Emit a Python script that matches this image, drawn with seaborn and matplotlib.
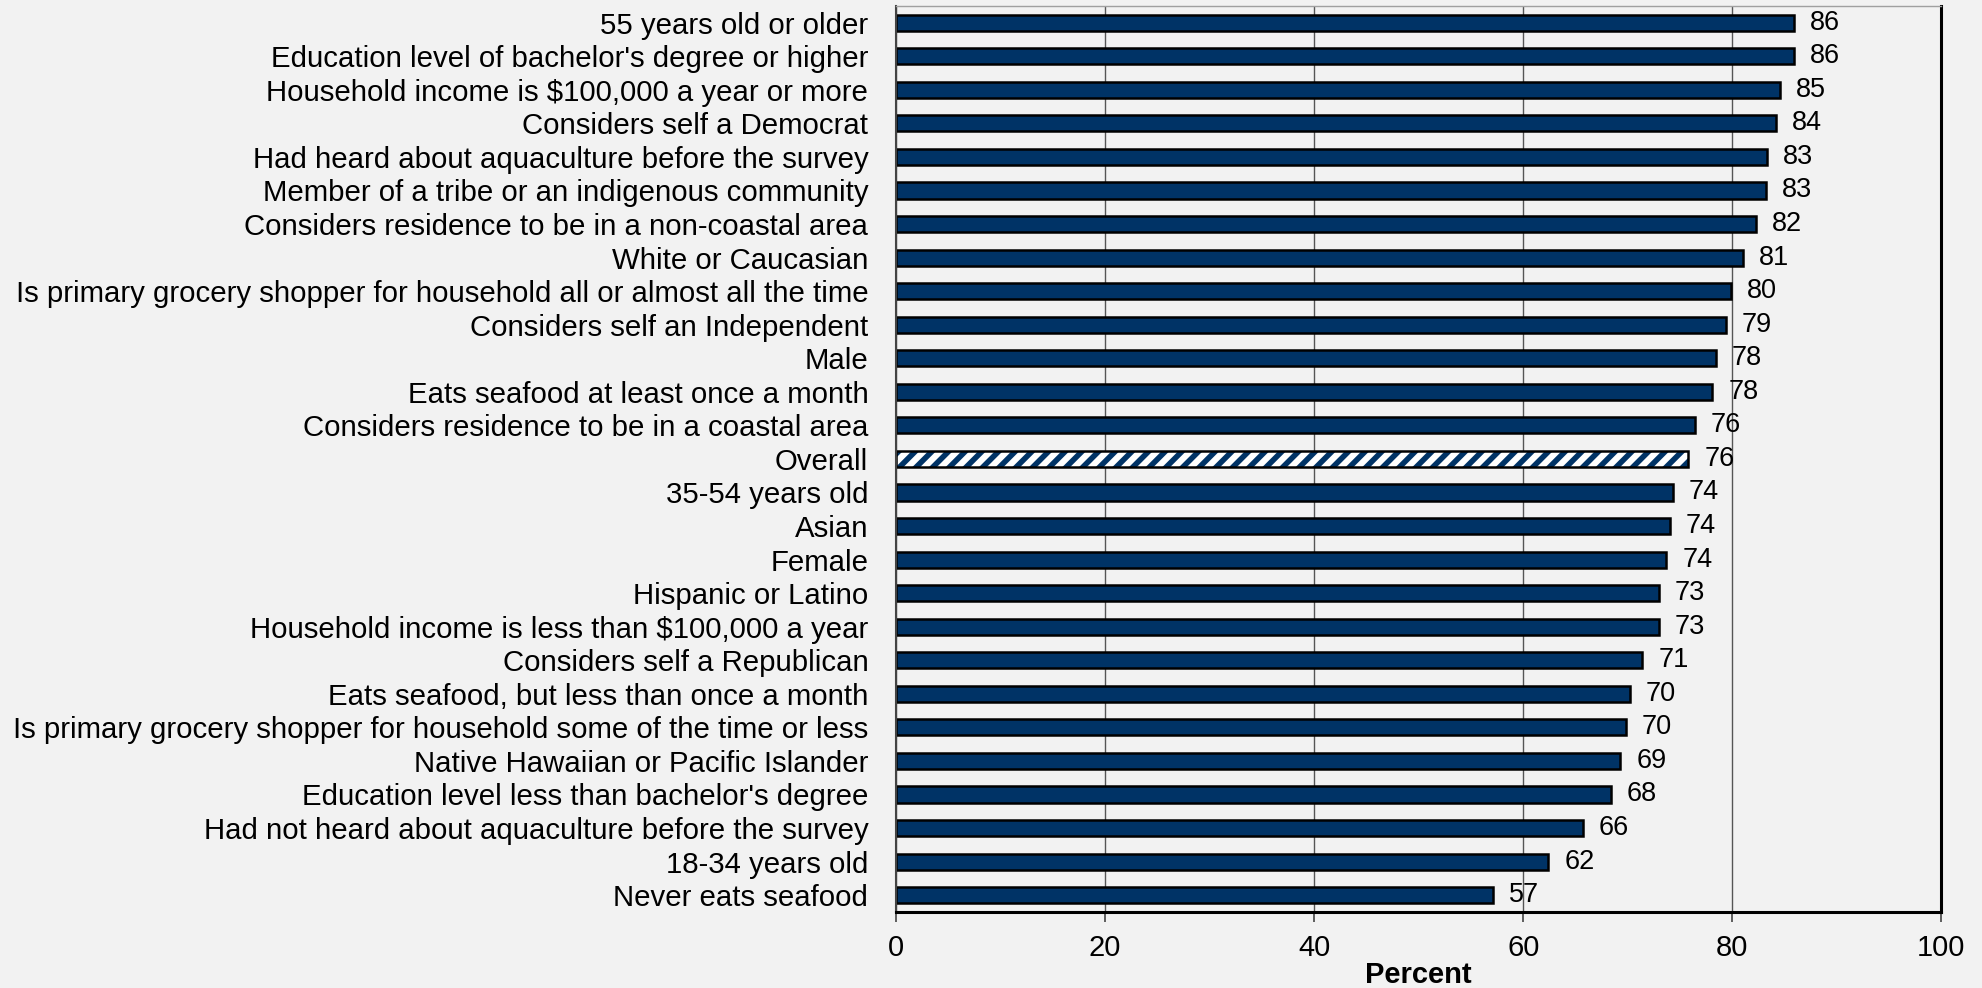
import matplotlib
matplotlib.use("Agg")
import matplotlib.pyplot as plt
import seaborn as sns
import numpy as np
import pandas as pd

# data (top to bottom)
categories = [
    "55 years old or older",
    "Education level of bachelor's degree or higher",
    "Household income is $100,000 a year or more",
    "Considers self a Democrat",
    "Had heard about aquaculture before the survey",
    "Member of a tribe or an indigenous community",
    "Considers residence to be in a non-coastal area",
    "White or Caucasian",
    "Is primary grocery shopper for household all or almost all the time",
    "Considers self an Independent",
    "Male",
    "Eats seafood at least once a month",
    "Considers residence to be in a coastal area",
    "Overall",
    "35-54 years old",
    "Asian",
    "Female",
    "Hispanic or Latino",
    "Household income is less than $100,000 a year",
    "Considers self a Republican",
    "Eats seafood, but less than once a month",
    "Is primary grocery shopper for household some of the time or less",
    "Native Hawaiian or Pacific Islander",
    "Education level less than bachelor's degree",
    "Had not heard about aquaculture before the survey",
    "18-34 years old",
    "Never eats seafood",
]
percent = [85.9, 85.9, 84.6, 84.2, 83.3, 83.2, 82.3, 81.0, 79.9, 79.4, 78.4, 78.1,
           76.4, 75.8, 74.3, 74.0, 73.7, 73.0, 73.0, 71.4, 70.2, 69.8, 69.3, 68.4,
           65.7, 62.4, 57.1]
x_ticks = [0, 20, 40, 60, 80, 100]
highlight = "Overall"

navy = "#003366"
bg = "#f2f2f2"

sns.set_style("white")
plt.rcParams["font.family"] = ["Liberation Sans", "DejaVu Sans"]
plt.rcParams["hatch.linewidth"] = 4.0
plt.rcParams["text.color"] = "black"
plt.rcParams["axes.labelcolor"] = "black"
plt.rcParams["xtick.labelcolor"] = "black"
plt.rcParams["ytick.labelcolor"] = "black"

df = pd.DataFrame({"group": categories, "pct": percent})

fig = plt.figure(figsize=(19.82, 9.88), dpi=100, facecolor=bg)
ax = fig.add_axes([0.4521, 0.077, 0.9795 - 0.4521, 0.994 - 0.077])
ax.set_facecolor(bg)

bar_h = 0.48
sns.barplot(data=df, x="pct", y="group", orient="h", color=navy, saturation=1,
            edgecolor="black", linewidth=1.8, width=bar_h, ax=ax, zorder=3)

# hatched "Overall" bar
idx = categories.index(highlight)
p = ax.patches[idx]
p.set_facecolor("white")
p.set_edgecolor(navy)
p.set_hatch("//")
p.set_linewidth(0)
ax.barh(idx, percent[idx], height=bar_h, fill=False, edgecolor="black",
        linewidth=1.8, zorder=4)

# value labels
for i, v in enumerate(percent):
    ax.annotate(f"{v:.0f}", xy=(v, i), xytext=(11.5, 0), textcoords="offset points",
                va="center", ha="left", fontsize=19.5, color="black")

ax.set_xlim(0, 100)
ax.set_ylim(len(categories) - 0.5, -0.5)
ax.set_xticks(x_ticks)
ax.set_xticklabels([str(t) for t in x_ticks], fontsize=21)
ax.set_yticks(np.arange(len(categories)))
ax.set_yticklabels(categories, fontsize=21.2)
ax.set_yticks(np.arange(len(categories) + 1) - 0.5, minor=True)
ax.tick_params(axis="y", which="major", length=0, pad=20)
ax.tick_params(axis="y", which="minor", length=7, width=1.2, color="#444444", direction="out")
ax.tick_params(axis="x", which="major", length=7, width=1.2, color="#444444",
               direction="out", pad=9, bottom=True)

ax.xaxis.grid(True, color="#555555", linewidth=1.0, zorder=0)
ax.yaxis.grid(False)
ax.set_axisbelow(True)

ax.set_ylabel("")
ax.set_xlabel("Percent", fontsize=21, fontweight="bold", labelpad=-1)

ax.spines["top"].set_color("#a0a0a0")
ax.spines["top"].set_linewidth(1.0)
ax.spines["left"].set_color("#444444")
ax.spines["left"].set_linewidth(1.5)
ax.spines["right"].set_color("black")
ax.spines["right"].set_linewidth(2.2)
ax.spines["bottom"].set_color("black")
ax.spines["bottom"].set_linewidth(2.2)
for s in ax.spines.values():
    s.set_visible(True)
    s.set_zorder(5)

fig.savefig("out.png", dpi=100, facecolor=bg)
